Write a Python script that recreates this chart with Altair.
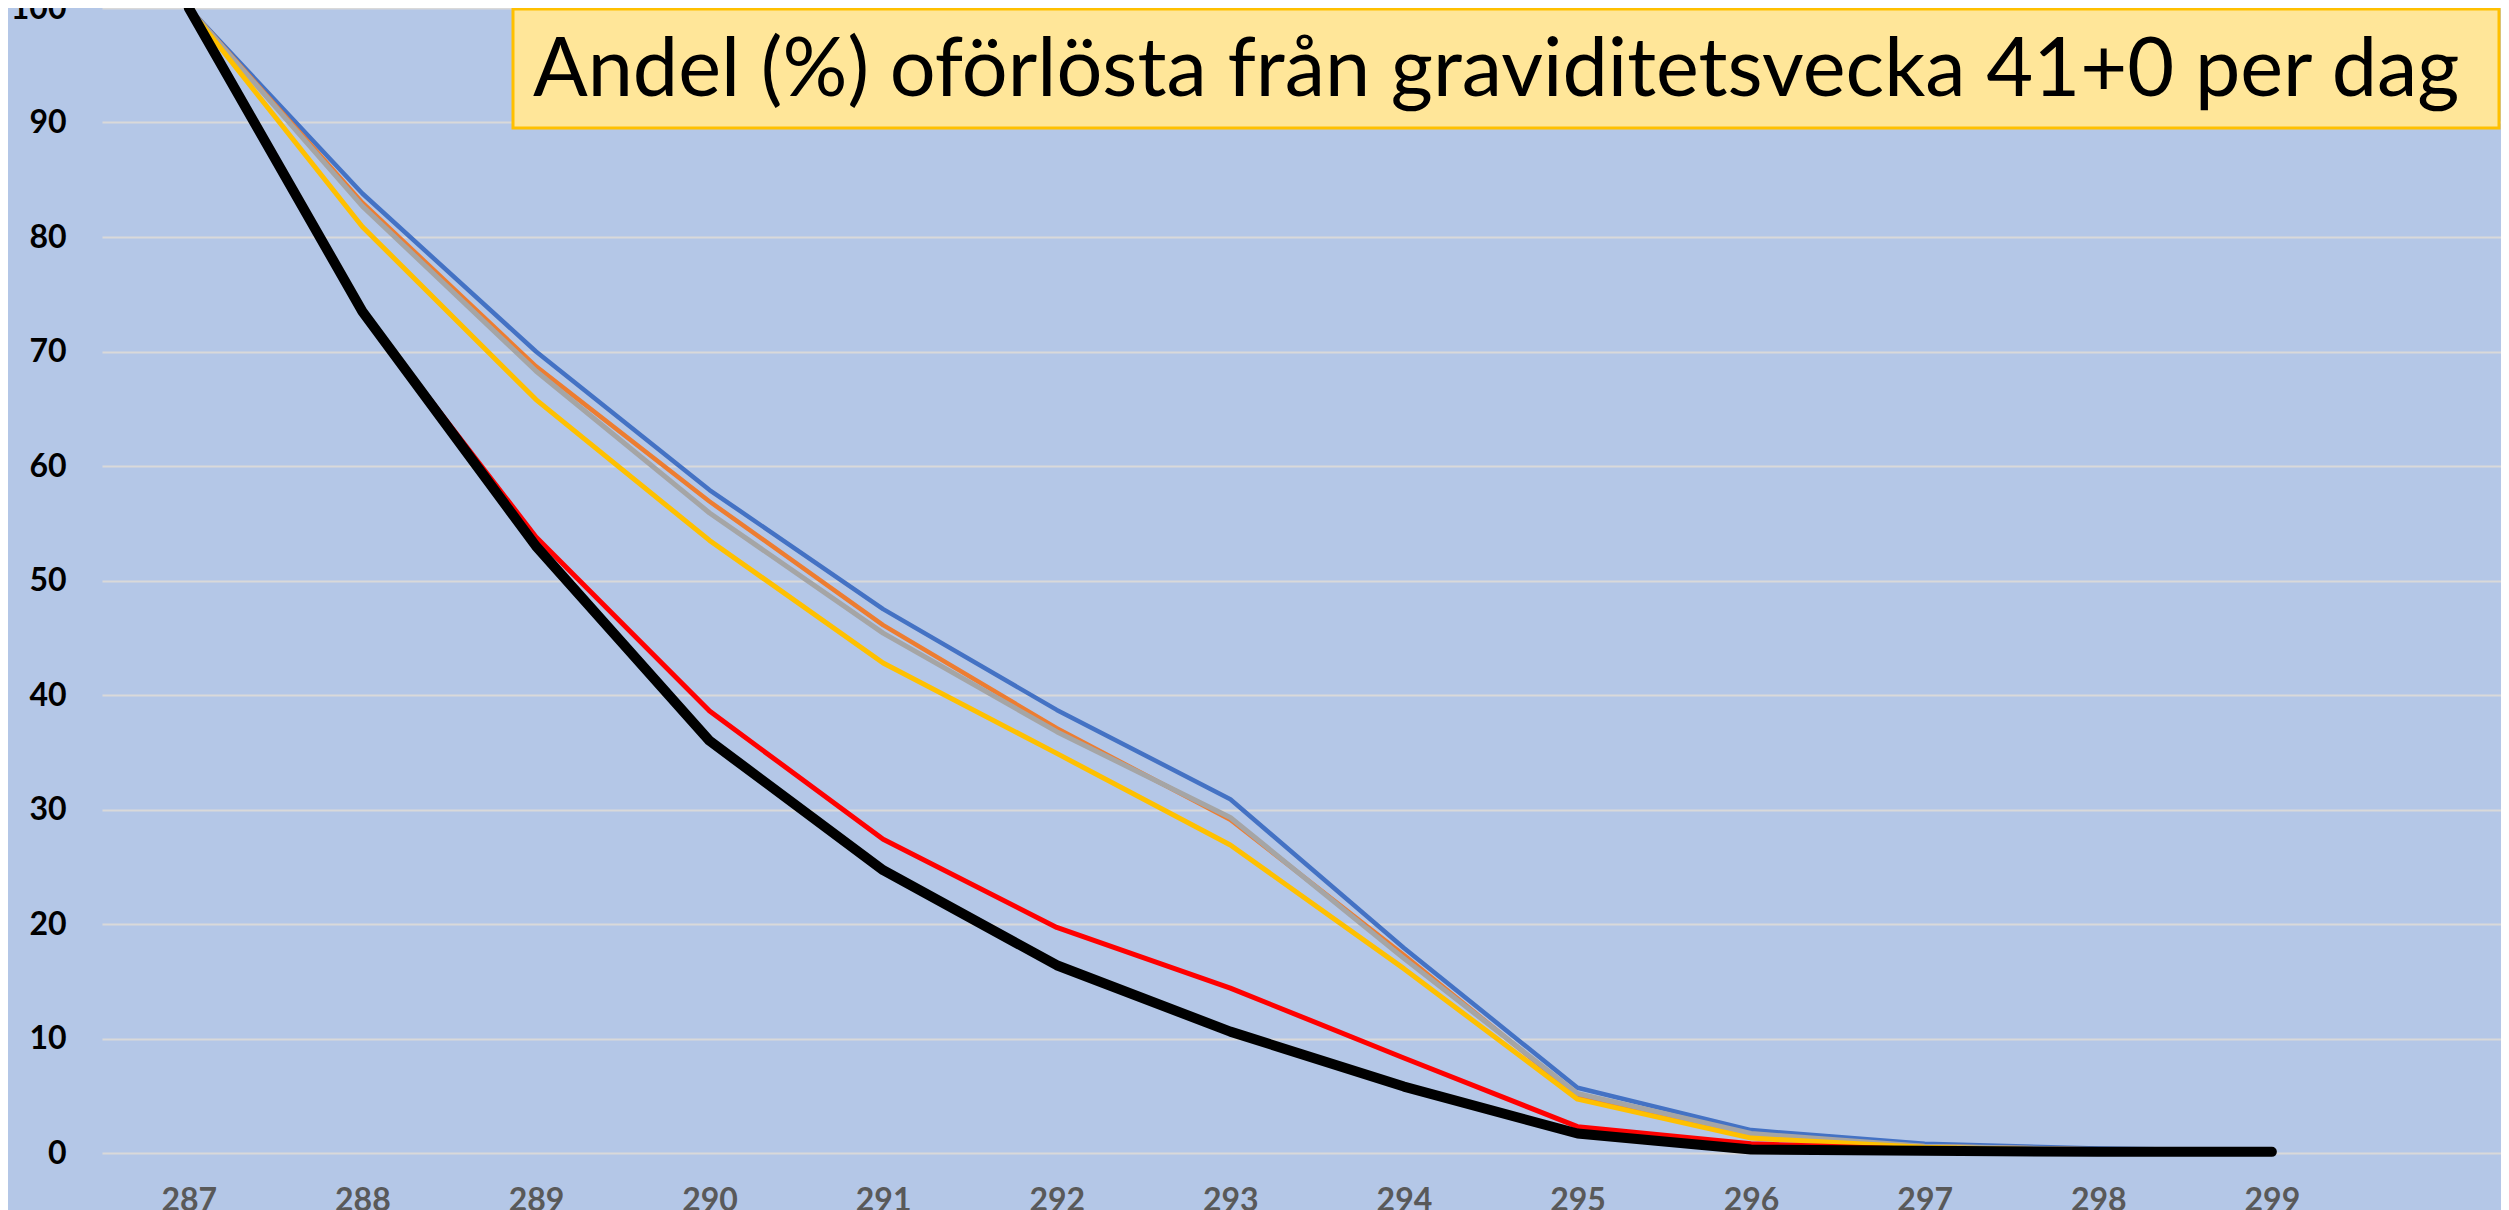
import altair as alt
import pandas as pd

days = [287, 288, 289, 290, 291, 292, 293, 294, 295, 296, 297, 298, 299]

serie_1 = [100, 83.8, 70.0, 57.9, 47.5, 38.7, 30.9, 17.9, 5.7, 2.0, 0.8, 0.4, 0.2]
serie_2 = [100, 83.0, 68.7, 56.9, 46.1, 37.1, 29.1, 17.3, 5.0, 1.5, 0.6, 0.3, 0.1]
serie_3 = [100, 82.7, 68.3, 55.9, 45.4, 36.8, 29.3, 17.0, 5.2, 1.7, 0.6, 0.3, 0.1]
serie_4 = [100, 80.9, 65.8, 53.5, 42.8, 34.9, 26.9, 16.1, 4.7, 1.3, 0.5, 0.2, 0.1]
serie_5 = [100, 73.5, 53.8, 38.6, 27.4, 19.7, 14.4, 8.3, 2.3, 0.8, 0.3, 0.2, 0.1]
serie_6 = [100, 73.5, 53.0, 36.0, 24.7, 16.4, 10.6, 5.8, 1.7, 0.3, 0.2, 0.1, 0.1]

series_names = ["Serie 1", "Serie 2", "Serie 3", "Serie 4", "Serie 5", "Serie 6"]
series_values = [serie_1, serie_2, serie_3, serie_4, serie_5, serie_6]
series_colors = ["#4472C4", "#ED7D31", "#A5A5A5", "#FFC000", "#FF0000", "#000000"]
series_widths = [4.5, 4.5, 5, 5, 5, 10]

title_text = "Andel (%) oförlösta från graviditetsvecka 41+0 per dag"
y_ticks = [0, 10, 20, 30, 40, 50, 60, 70, 80, 90, 100]

rows = []
for name, vals in zip(series_names, series_values):
    for d, v in zip(days, vals):
        rows.append({"serie": name, "dag": d, "andel": v})
df = pd.DataFrame(rows)

x_scale = alt.Scale(domain=[286.5, 300.32], nice=False, zero=False)
y_scale = alt.Scale(domain=[0, 100], nice=False)

x_enc = alt.X(
    "dag:Q",
    scale=x_scale,
    axis=alt.Axis(
        values=days, format="d", title=None, grid=False, ticks=False, domain=False,
        labelFont="Lato", labelFontWeight="bold", labelFontSize=32,
        labelColor="#595959", labelPadding=32, labelFlush=False,
    ),
)
y_enc = alt.Y(
    "andel:Q",
    scale=y_scale,
    axis=alt.Axis(
        values=y_ticks, title=None, grid=True, gridColor="#D9D9D9", gridWidth=2,
        ticks=False, domain=False,
        labelFont="Lato", labelFontWeight="bold", labelFontSize=32,
        labelColor="#000000", labelPadding=36,
    ),
)

layers = []
for i, (name, col, w) in enumerate(zip(series_names, series_colors, series_widths)):
    enc_x = x_enc if i == 0 else alt.X("dag:Q", scale=x_scale)
    enc_y = y_enc if i == 0 else alt.Y("andel:Q", scale=y_scale)
    layers.append(
        alt.Chart(df)
        .transform_filter(alt.datum.serie == name)
        .mark_line(color=col, strokeWidth=w, strokeCap="round" if w > 6 else "butt", strokeJoin="round")
        .encode(x=enc_x, y=enc_y)
    )

box = alt.Chart(alt.Data(values=[{"t": title_text}])).mark_rect(
    fill="#FFE699", stroke="#FFC000", strokeWidth=3
).encode(
    x=alt.value(411), x2=alt.value(2397), y=alt.value(1), y2=alt.value(120)
)
title = alt.Chart(alt.Data(values=[{"t": title_text}])).mark_text(
    align="left", baseline="alphabetic", font="Lato", fontSize=81, color="#000000"
).encode(
    x=alt.value(431), y=alt.value(88), text="t:N"
)

chart = (
    alt.layer(*layers, box, title)
    .properties(
        width=2399, height=1145,
        autosize=alt.AutoSizeParams(type="none"),
        padding={"left": 94, "top": 0, "right": 0, "bottom": 57},
        background="#B4C7E7",
    )
    .configure_view(strokeWidth=0)
)

chart.save("out.html", embed_options={"renderer": "svg", "actions": False})
